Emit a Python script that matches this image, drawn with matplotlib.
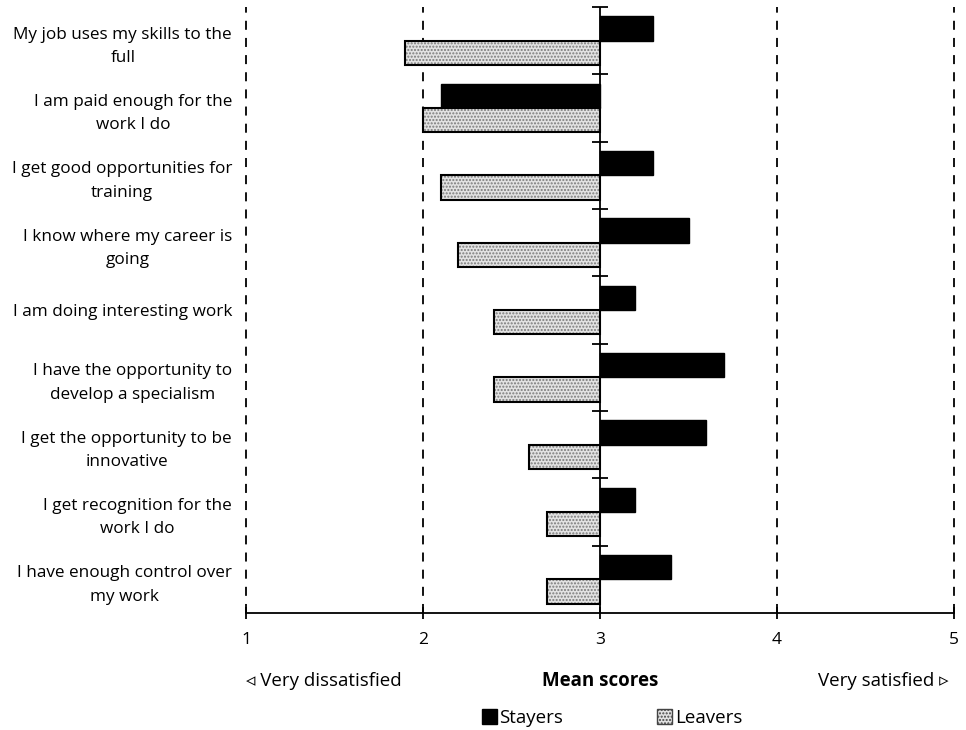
import matplotlib
matplotlib.use("Agg")
import matplotlib.pyplot as plt
from matplotlib.patches import Patch
import numpy as np

plt.rcParams['font.family'] = ['Open Sans', 'DejaVu Sans']

statements = [
    "My job uses my skills to the\nfull",
    "I am paid enough for the\nwork I do",
    "I get good opportunities for\ntraining",
    "I know where my career is\ngoing",
    "I am doing interesting work",
    "I have the opportunity to\ndevelop a specialism",
    "I get the opportunity to be\ninnovative",
    "I get recognition for the\nwork I do",
    "I have enough control over\nmy work",
]
stayers = [3.3, 2.1, 3.3, 3.5, 3.2, 3.7, 3.6, 3.2, 3.4]
leavers = [1.9, 2.0, 2.1, 2.2, 2.4, 2.4, 2.6, 2.7, 2.7]
x_ticks = [1, 2, 3, 4, 5]
midpoint = 3

W, H = 966, 730
fig = plt.figure(figsize=(W / 100, H / 100), dpi=100)
ax = fig.add_axes([246 / W, 1 - 613 / H, (954 - 246) / W, (613 - 7) / H])

n = len(statements)
y = np.arange(n)
bh = 0.36

# Stayers: solid black bars from the midpoint
ax.barh(y - bh / 2, np.array(stayers) - midpoint, left=midpoint, height=bh,
        color='black', edgecolor='black', linewidth=1.0, zorder=3)
# Leavers: stippled grey fill with a black outline
ax.barh(y + bh / 2, np.array(leavers) - midpoint, left=midpoint, height=bh,
        color='#e2e2e2', edgecolor='#7a7a7a', hatch='.....', linewidth=0, zorder=3)
ax.barh(y + bh / 2, np.array(leavers) - midpoint, left=midpoint, height=bh,
        fill=False, edgecolor='black', linewidth=1.5, zorder=4)

ax.set_xlim(1, 5)
ax.set_ylim(n - 0.5, -0.5)

# dashed reference lines
for xv in [1, 2, 4, 5]:
    ax.axvline(xv, color='black', linestyle=(0, (5, 4.5)), linewidth=1.3,
               clip_on=False, zorder=1)
# solid midpoint axis with category boundary ticks
ax.axvline(midpoint, color='black', linewidth=1.3, zorder=5)
bounds = np.arange(n) - 0.5
ax.plot([midpoint] * len(bounds), bounds, linestyle='none', marker='_',
        markersize=11, markeredgewidth=1.3, color='black', zorder=5, clip_on=False)

for s in ['top', 'right', 'left']:
    ax.spines[s].set_visible(False)
ax.spines['bottom'].set_linewidth(1.3)

ax.set_xticks(x_ticks)
ax.set_xticklabels([str(v) for v in x_ticks], fontsize=12.5)
ax.tick_params(axis='x', direction='inout', length=9, width=1.3, pad=9)
ax.set_yticks(y)
ax.set_yticklabels(statements, fontsize=12.3, multialignment='center', linespacing=1.6)
ax.tick_params(axis='y', length=0, pad=10)

fig.text(246 / W, 1 - 681 / H, "\u25c3 Very dissatisfied", fontsize=13.5,
         ha='left', va='center')
fig.text(600 / W, 1 - 681 / H, "Mean scores", fontsize=13.5, fontweight='bold',
         ha='center', va='center')
fig.text(948 / W, 1 - 681 / H, "Very satisfied \u25b9", fontsize=13.5,
         ha='right', va='center')

handles = [Patch(facecolor='black', edgecolor='black'),
           Patch(facecolor='#e2e2e2', edgecolor='#444444', hatch='.....')]
fig.legend(handles, ["Stayers", "Leavers"], loc='center',
           bbox_to_anchor=(612 / W, 1 - 718 / H), ncol=2, frameon=False,
           fontsize=13.5, handlelength=0.8, handleheight=0.8, handletextpad=0.15,
           columnspacing=5.0, borderpad=0)

fig.savefig("out.png", dpi=100)
